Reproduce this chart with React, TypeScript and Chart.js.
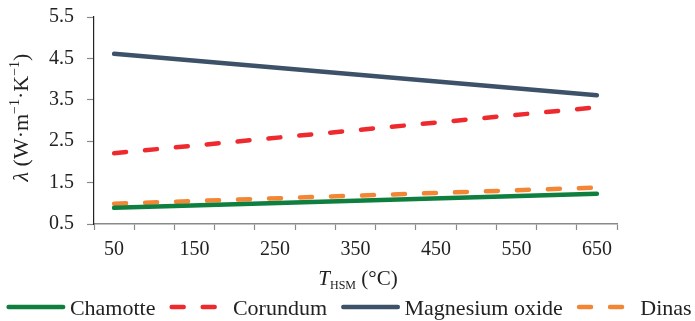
import React, { useEffect, useRef } from 'react';
import { Chart, registerables } from 'chart.js';

Chart.register(...registerables);

// ---- data ----
const categories = ['50', '100', '150', '200', '250', '300', '350', '400', '450', '500', '550', '600', '650'];
const endpointLabels = ['50', '650'];
const seriesNames = ['Chamotte', 'Corundum', 'Magnesium oxide', 'Dinas'];
const chamotteValues = [0.89, 1.23];
const corundumValues = [2.21, 3.32];
const magnesiumValues = [4.61, 3.61];
const dinasValues = [0.99, 1.38];
const yTickValues = [0.5, 1.5, 2.5, 3.5, 4.5, 5.5];

const seriesColors = ['#0e7f3e', '#ee2a2e', '#3d5168', '#f38634'];
const seriesDashes: number[][] = [[], [12, 19], [], [12, 19]];

const SERIF = "'Liberation Serif', 'Times New Roman', serif";
const TEXT = '#222';

type Part = { t: string; size: number; italic?: boolean; dy?: number };

function drawRich(ctx: CanvasRenderingContext2D, parts: Part[], cx: number, baseline: number) {
  const widths = parts.map((p) => {
    ctx.font = `${p.italic ? 'italic ' : ''}${p.size}px ${SERIF}`;
    return ctx.measureText(p.t).width;
  });
  const total = widths.reduce((a, b) => a + b, 0);
  let x = cx - total / 2;
  parts.forEach((p, i) => {
    ctx.font = `${p.italic ? 'italic ' : ''}${p.size}px ${SERIF}`;
    ctx.fillText(p.t, x, baseline + (p.dy || 0));
    x += widths[i];
  });
}

const yTitleParts: Part[] = [
  { t: 'λ', size: 22, italic: true },
  { t: ' (W·m', size: 22 },
  { t: '−1', size: 14, dy: -9 },
  { t: '·K', size: 22 },
  { t: '−1', size: 14, dy: -9 },
  { t: ')', size: 22 },
];
const xTitleParts: Part[] = [
  { t: 'T', size: 21, italic: true },
  { t: 'HSM', size: 12, dy: 4 },
  { t: ' (°C)', size: 21 },
];

const decorPlugin = {
  id: 'decor',
  afterDraw(chart: any) {
    const ctx: CanvasRenderingContext2D = chart.ctx;
    ctx.save();
    ctx.fillStyle = TEXT;
    ctx.textBaseline = 'alphabetic';
    ctx.textAlign = 'left';
    // y title
    ctx.save();
    ctx.translate(28, 117.5);
    ctx.rotate(-Math.PI / 2);
    drawRich(ctx, yTitleParts, 0, 0);
    ctx.restore();
    // x title
    drawRich(ctx, xTitleParts, 358, 284.5);

    // legend
    const fontSize = 22;
    const lineLen = 59;
    const gap = 4.5;
    const spacing = 14;
    ctx.font = `${fontSize}px ${SERIF}`;
    const items = chart.data.datasets.map((ds: any) => ({
      label: ds.label as string,
      color: ds.borderColor as string,
      dash: (ds.borderDash || []) as number[],
      width: ds.borderWidth as number,
      tw: ctx.measureText(ds.label).width,
    }));
    const total =
      items.reduce((a: number, it: any) => a + lineLen + gap + it.tw, 0) + spacing * (items.length - 1);
    let x = chart.width / 2 - total / 2 + 1.5;
    const ly = 307;
    items.forEach((it: any) => {
      const cap = it.width / 2;
      ctx.save();
      ctx.strokeStyle = it.color;
      ctx.lineWidth = it.width;
      ctx.lineCap = 'round';
      ctx.setLineDash(it.dash);
      ctx.beginPath();
      ctx.moveTo(x + cap, ly);
      ctx.lineTo(x + lineLen - cap, ly);
      ctx.stroke();
      ctx.restore();
      ctx.fillStyle = TEXT;
      ctx.font = `${fontSize}px ${SERIF}`;
      ctx.fillText(it.label, x + lineLen + gap, 314.5);
      x += lineLen + gap + it.tw + spacing;
    });
    ctx.restore();
  },
};

function makeData(values: number[]) {
  return endpointLabels.map((c, i) => ({ x: c, y: values[i] }));
}

export default function App() {
  const ref = useRef<HTMLCanvasElement | null>(null);
  useEffect(() => {
    if (!ref.current) return;
    const all = [chamotteValues, corundumValues, magnesiumValues, dinasValues];
    const chart = new Chart(ref.current, {
      type: 'line',
      data: {
        labels: categories,
        datasets: seriesNames.map((name, i) => ({
          label: name,
          data: makeData(all[i]),
          borderColor: seriesColors[i],
          backgroundColor: seriesColors[i],
          borderWidth: 4.5,
          borderDash: seriesDashes[i],
          borderCapStyle: 'round',
          pointRadius: 0,
          tension: 0,
          fill: false,
        })),
      },
      options: {
        responsive: false,
        animation: false,
        devicePixelRatio: 1,
        layout: { padding: { top: 17, right: 78, left: 0, bottom: 0 } },
        plugins: { legend: { display: false }, tooltip: { enabled: false }, title: { display: false } },
        scales: {
          x: {
            type: 'category',
            offset: true,
            grid: { offset: true, drawOnChartArea: false, drawTicks: true, tickLength: 6, tickColor: '#8a8a8a', tickWidth: 1.2 },
            border: { color: '#8a8a8a', width: 1.5 },
            ticks: {
              autoSkip: false,
              maxRotation: 0,
              minRotation: 0,
              padding: 8,
              color: TEXT,
              font: { family: SERIF, size: 20 },
              callback: (_v: any, i: number) => (i % 2 === 0 ? categories[i] : ''),
            },
            afterFit: (s: any) => {
              s.height = 97;
              s.paddingLeft = 0;
              s.paddingRight = 0;
            },
          },
          y: {
            type: 'linear',
            min: 0.5,
            max: 5.5,
            afterBuildTicks: (s: any) => {
              s.ticks = yTickValues.map((v) => ({ value: v }));
            },
            grid: { drawOnChartArea: false, drawTicks: true, tickLength: 7, tickColor: '#8a8a8a', tickWidth: 1.2 },
            border: { color: '#222', width: 1.2 },
            ticks: {
              padding: 13,
              color: TEXT,
              font: { family: SERIF, size: 20 },
              callback: (v: any) => Number(v).toFixed(1),
            },
            afterFit: (s: any) => {
              s.width = 94;
              s.paddingTop = 0;
              s.paddingBottom = 0;
            },
          },
        },
      },
      plugins: [decorPlugin],
    } as any);
    return () => chart.destroy();
  }, []);
  return (
    <div style={{ position: 'absolute', left: 0, top: 0, width: 695, height: 321, background: '#fff' }}>
      <canvas ref={ref} width={695} height={321} style={{ display: 'block' }} />
    </div>
  );
}
